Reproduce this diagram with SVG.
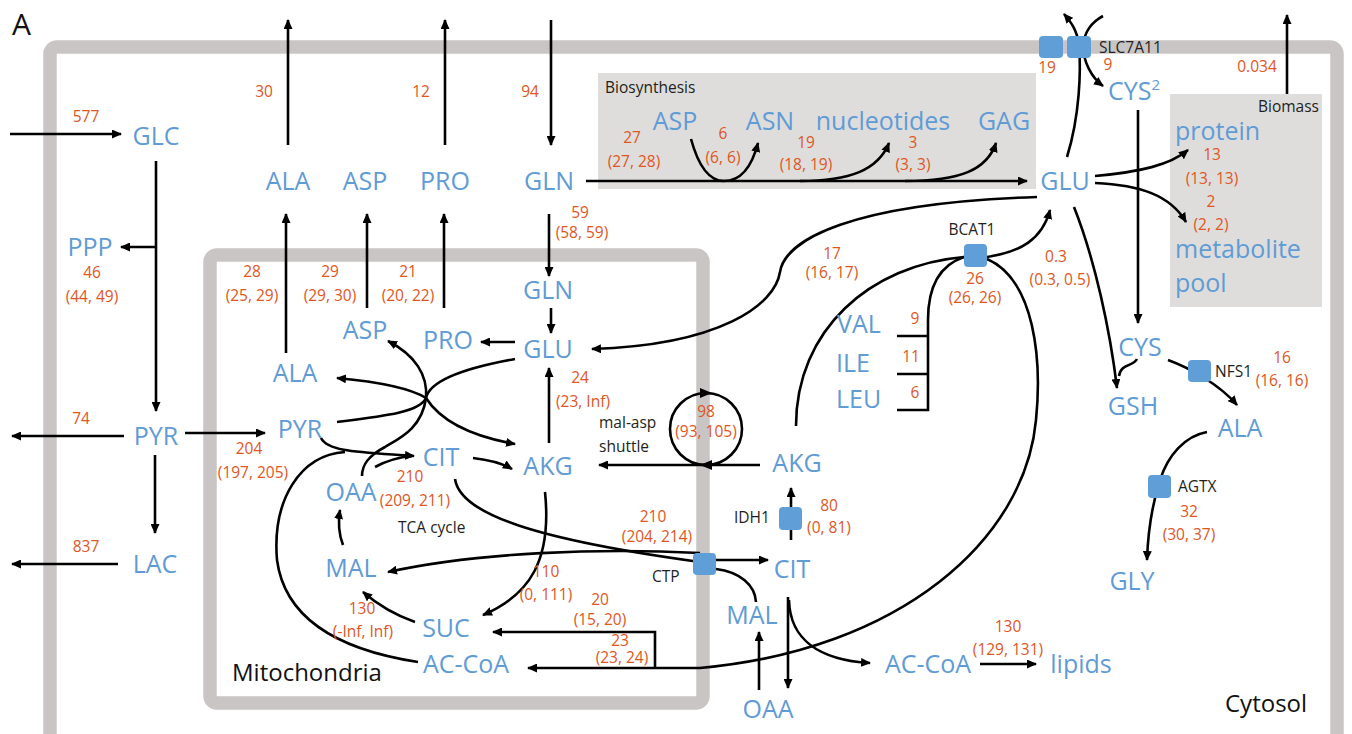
<svg xmlns="http://www.w3.org/2000/svg" width="1352" height="734" viewBox="0 0 1352 734">
<style>
.m{font-family:"Open Sans","Noto Sans",sans-serif;font-size:25px;fill:#5F9BD5;text-anchor:middle}
.ms{font-family:"Open Sans","Noto Sans",sans-serif;font-size:25px;fill:#5F9BD5}
.n{font-family:"Open Sans","Noto Sans",sans-serif;font-size:15.5px;fill:#E0561E;text-anchor:middle}
.l{font-family:"Open Sans","Noto Sans",sans-serif;font-size:15.5px;fill:#231F20}
.big{font-family:"Open Sans","Noto Sans",sans-serif;font-size:24px;fill:#111}
.c{fill:none;stroke:#000;stroke-width:2.6}
.a{marker-end:url(#ah)}
.enz{fill:#5F9ED6}
.comp{fill:none;stroke:#C9C5C4;stroke-width:13.5}
.box{fill:#DEDDDC}
</style>
<defs>
<marker id="ah" viewBox="0 0 10 9" refX="9" refY="4.5" markerWidth="10" markerHeight="9" markerUnits="userSpaceOnUse" orient="auto">
<path d="M0,0 L10,4.5 L0,9 z" fill="#000"/>
</marker>
</defs>
<rect width="1352" height="734" fill="#fff"/>
<g id="compartments">
<rect class="comp" x="50" y="47" width="1287" height="700" rx="7"/>
<rect class="comp" x="210" y="255" width="493" height="448" rx="7"/>
<rect class="box" x="598" y="73" width="438" height="116"/>
<rect class="box" x="1170" y="94" width="152" height="213"/>
</g>
<g id="connectors">
<path class="c a" d="M10,134 H121"/>
<path class="c a" d="M156,161 V411"/>
<path class="c a" d="M156,247 H121"/>
<path class="c a" d="M124,436 H12"/>
<path class="c a" d="M185,433 H265"/>
<path class="c a" d="M155,455 V533"/>
<path class="c a" d="M118,564 H12"/>
<path class="c a" d="M288,145 V20"/>
<path class="c a" d="M445,145 V20"/>
<path class="c a" d="M551,20 V145"/>
<path class="c a" d="M586,181 H1027"/>
<path class="c a" d="M691,139 C700,172 713,181 724,181 C741,181 752,166 758,143"/>
<path class="c a" d="M800,181 C850,181 878,170 889,143"/>
<path class="c a" d="M905,181 C960,181 987,170 996,143"/>
<path class="c a" d="M286,353 V214"/>
<path class="c a" d="M367,308 V214"/>
<path class="c a" d="M444,308 V214"/>
<path class="c a" d="M549,214 V276"/>
<path class="c a" d="M551,308 V333"/>
<path class="c a" d="M515,342 H481"/>
<path class="c a" d="M549,443 V368"/>
<path class="c a" d="M426,398 C410,388 380,382 337,378"/>
<path class="c a" d="M426,398 C440,420 470,436 515,444"/>
<path class="c" d="M337,422 C385,416 420,412 426,398"/>
<path class="c" d="M515,359 C465,368 430,380 426,398"/>
<path class="c a" d="M426,398 C428,375 415,355 388,341"/>
<path class="c" d="M426,398 C422,428 400,438 385,447 C368,456 362,465 362,476"/>
<path class="c a" d="M321,438 C328,452 360,452 414,456"/>
<path class="c" d="M375,467 C388,460 400,457 412,456"/>
<path class="c a" d="M473,458 C490,460 502,463 512,469"/>
<path class="c a" d="M343,545 C338,532 338,522 340,510"/>
<path class="c a" d="M415,622 C395,615 378,605 363,592"/>
<path class="c a" d="M545,492 C552,560 530,595 483,615"/>
<path class="c" d="M418,662 C340,650 285,620 277,560 C272,500 300,455 345,452"/>
<path class="c" d="M455,479 C460,515 540,540 700,562"/>
<path class="c a" d="M700,553 C600,548 480,552 388,572"/>
<path class="c a" d="M716,560 H768"/>
<path class="c" d="M716,569 C740,572 755,585 756,602"/>
<path class="c a" d="M791,540 V488"/>
<path class="c a" d="M788,597 V688"/>
<path class="c a" d="M789,600 C790,640 820,660 870,663"/>
<path class="c a" d="M759,690 V632"/>
<path class="c a" d="M980,664 H1036"/>
<path class="c a" d="M760,465 H599"/>
<circle class="c" cx="706" cy="429" r="36"/>
<path d="M700,388 L712,393 L700,398 z"/>
<path d="M712,460 L700,465 L712,470 z"/>
<path class="c a" d="M655,668 V632 H493"/>
<path class="c a" d="M987,259 C1035,280 1042,360 1036,420 C1025,540 900,650 700,668 L528,668"/>
<path class="c a" d="M987,257 C1020,252 1042,240 1050,210"/>
<path class="c" d="M964,257 C870,265 796,330 796,426"/>
<path class="c" d="M964,257 C940,265 928,285 928,320 V410 H897 M897,336 H928 M897,374 H928"/>
<path class="c a" d="M1037,197 C850,203 785,240 780,272 C775,305 720,345 592,349"/>
<path class="c a" d="M1067,157 C1080,115 1081,70 1079,45 C1077,30 1071,22 1064,14"/>
<path class="c a" d="M1103,16 C1092,22 1085,30 1083,45 C1083,62 1092,78 1103,86"/>
<path class="c a" d="M1138,110 V323"/>
<path class="c a" d="M1287,94 V15"/>
<path class="c a" d="M1095,176 C1140,172 1170,165 1188,150"/>
<path class="c a" d="M1095,183 C1140,185 1170,195 1186,222"/>
<path class="c a" d="M1074,207 C1095,260 1110,330 1117,388"/>
<path class="c" d="M1137,359 C1133,367 1121,363 1119,376"/>
<path class="c a" d="M1168,360 C1190,368 1220,385 1237,405"/>
<path class="c a" d="M1207,432 C1185,436 1168,455 1160,480 C1152,505 1148,530 1147,560"/>
</g>
<g id="enzymes">
<g id="SLC7A11"><rect class="enz" x="1039" y="36" width="24" height="22" rx="4"/><rect class="enz" x="1067" y="36" width="24" height="22" rx="4"/><text class="l" x="1099" y="53">SLC7A11</text></g>
<g id="BCAT1"><rect class="enz" x="964" y="244" width="23" height="23" rx="4"/><text class="l" x="972" y="235" text-anchor="middle">BCAT1</text></g>
<g id="NFS1"><rect class="enz" x="1188" y="360" width="23" height="22" rx="4"/><text class="l" x="1215" y="377">NFS1</text></g>
<g id="AGTX"><rect class="enz" x="1148" y="475" width="23" height="23" rx="4"/><text class="l" x="1178" y="492">AGTX</text></g>
<g id="IDH1"><rect class="enz" x="779" y="507" width="23" height="23" rx="4"/><text class="l" x="734" y="523">IDH1</text></g>
<g id="CTP"><rect class="enz" x="693" y="553" width="23" height="22" rx="4"/><text class="l" x="652" y="582">CTP</text></g>
</g>
<g id="labels">
<text x="12" y="35" style="font-family:'Open Sans',sans-serif;font-size:30px;fill:#111">A</text>
<text class="l" x="605" y="93">Biosynthesis</text>
<text class="l" x="1319" y="112" text-anchor="end">Biomass</text>
<text class="l" x="398" y="533">TCA cycle</text>
<text class="l" x="599" y="428">mal-asp</text>
<text class="l" x="599" y="452">shuttle</text>
<text class="big" x="232" y="681">Mitochondria</text>
<text class="big" x="1225" y="712">Cytosol</text>
</g>
<g id="nodes">
<g id="GLC"><text class="m" x="156" y="145">GLC</text></g>
<g id="PPP"><text class="m" x="90" y="256">PPP</text></g>
<g id="PYR_c"><text class="m" x="156" y="445">PYR</text></g>
<g id="LAC"><text class="m" x="155" y="573">LAC</text></g>
<g id="ALA_c"><text class="m" x="288" y="190">ALA</text></g>
<g id="ASP_c"><text class="m" x="365" y="190">ASP</text></g>
<g id="PRO_c"><text class="m" x="445" y="190">PRO</text></g>
<g id="GLN_c"><text class="m" x="549" y="190">GLN</text></g>
<g id="ASP_b"><text class="m" x="675" y="130">ASP</text></g>
<g id="ASN"><text class="m" x="770" y="130">ASN</text></g>
<g id="nucleotides"><text class="m" x="883" y="130">nucleotides</text></g>
<g id="GAG"><text class="m" x="1004" y="130">GAG</text></g>
<g id="GLU_c"><text class="m" x="1065" y="190">GLU</text></g>
<g id="CYS2"><text class="ms" x="1108" y="100">CYS<tspan font-size="15" dy="-10">2</tspan></text></g>
<g id="protein"><text class="ms" x="1175" y="140">protein</text></g>
<g id="metabolite_pool"><text class="ms" x="1175" y="258">metabolite</text><text class="ms" x="1175" y="292">pool</text></g>
<g id="CYS"><text class="m" x="1140" y="356">CYS</text></g>
<g id="GSH"><text class="m" x="1133" y="415">GSH</text></g>
<g id="ALA_r"><text class="m" x="1240" y="437">ALA</text></g>
<g id="GLY"><text class="m" x="1132" y="590">GLY</text></g>
<g id="VAL"><text class="ms" x="837" y="333">VAL</text></g>
<g id="ILE"><text class="ms" x="836" y="372">ILE</text></g>
<g id="LEU"><text class="ms" x="836" y="408">LEU</text></g>
<g id="GLN_m"><text class="m" x="548" y="299">GLN</text></g>
<g id="GLU_m"><text class="m" x="548" y="358">GLU</text></g>
<g id="PRO_m"><text class="m" x="448" y="349">PRO</text></g>
<g id="ASP_m"><text class="m" x="365" y="339">ASP</text></g>
<g id="ALA_m"><text class="m" x="295" y="382">ALA</text></g>
<g id="PYR_m"><text class="m" x="300" y="438">PYR</text></g>
<g id="CIT_m"><text class="m" x="441" y="466">CIT</text></g>
<g id="AKG_m"><text class="m" x="548" y="475">AKG</text></g>
<g id="OAA_m"><text class="m" x="351" y="501">OAA</text></g>
<g id="MAL_m"><text class="m" x="351" y="577">MAL</text></g>
<g id="SUC"><text class="m" x="446" y="637">SUC</text></g>
<g id="ACCoA_m"><text class="m" x="466" y="673">AC-CoA</text></g>
<g id="AKG_c"><text class="m" x="797" y="472">AKG</text></g>
<g id="CIT_c"><text class="m" x="792" y="578">CIT</text></g>
<g id="MAL_c"><text class="m" x="752" y="624">MAL</text></g>
<g id="OAA_c"><text class="m" x="768" y="718">OAA</text></g>
<g id="ACCoA_c"><text class="m" x="928" y="673">AC-CoA</text></g>
<g id="lipids"><text class="m" x="1081" y="673">lipids</text></g>
</g>
<g id="fluxes">
<text class="n" x="86" y="122">577</text>
<text class="n" x="264" y="97">30</text>
<text class="n" x="421" y="97">12</text>
<text class="n" x="530" y="97">94</text>
<text class="n" x="632" y="143">27</text><text class="n" x="634" y="167">(27, 28)</text>
<text class="n" x="723" y="139">6</text><text class="n" x="723" y="163">(6, 6)</text>
<text class="n" x="806" y="148">19</text><text class="n" x="806" y="170">(18, 19)</text>
<text class="n" x="913" y="148">3</text><text class="n" x="913" y="170">(3, 3)</text>
<text class="n" x="1047" y="73">19</text>
<text class="n" x="1108" y="70">9</text>
<text class="n" x="1257" y="72">0.034</text>
<text class="n" x="1212" y="160">13</text><text class="n" x="1212" y="184">(13, 13)</text>
<text class="n" x="1211" y="207">2</text><text class="n" x="1211" y="230">(2, 2)</text>
<text class="n" x="92" y="278">46</text><text class="n" x="92" y="302">(44, 49)</text>
<text class="n" x="252" y="277">28</text><text class="n" x="252" y="301">(25, 29)</text>
<text class="n" x="330" y="277">29</text><text class="n" x="330" y="301">(29, 30)</text>
<text class="n" x="408" y="277">21</text><text class="n" x="408" y="301">(20, 22)</text>
<text class="n" x="580" y="218">59</text><text class="n" x="582" y="238">(58, 59)</text>
<text class="n" x="832" y="259">17</text><text class="n" x="832" y="278">(16, 17)</text>
<text class="n" x="975" y="284">26</text><text class="n" x="975" y="303">(26, 26)</text>
<text class="n" x="1056" y="262">0.3</text><text class="n" x="1060" y="285">(0.3, 0.5)</text>
<text class="n" x="915" y="324">9</text>
<text class="n" x="911" y="362">11</text>
<text class="n" x="915" y="398">6</text>
<text class="n" x="1282" y="363">16</text><text class="n" x="1282" y="386">(16, 16)</text>
<text class="n" x="580" y="383">24</text><text class="n" x="583" y="407">(23, Inf)</text>
<text class="n" x="706" y="417">98</text><text class="n" x="706" y="437">(93, 105)</text>
<text class="n" x="81" y="424">74</text>
<text class="n" x="249" y="454">204</text><text class="n" x="253" y="478">(197, 205)</text>
<text class="n" x="410" y="482">210</text><text class="n" x="415" y="506">(209, 211)</text>
<text class="n" x="653" y="522">210</text><text class="n" x="657" y="542">(204, 214)</text>
<text class="n" x="829" y="511">80</text><text class="n" x="829" y="533">(0, 81)</text>
<text class="n" x="1189" y="517">32</text><text class="n" x="1189" y="540">(30, 37)</text>
<text class="n" x="86" y="552">837</text>
<text class="n" x="546" y="577">110</text><text class="n" x="546" y="600">(0, 111)</text>
<text class="n" x="600" y="605">20</text><text class="n" x="600" y="625">(15, 20)</text>
<text class="n" x="362" y="614">130</text><text class="n" x="363" y="637">(-Inf, Inf)</text>
<text class="n" x="620" y="646">23</text><text class="n" x="622" y="663">(23, 24)</text>
<text class="n" x="1008" y="632">130</text><text class="n" x="1008" y="655">(129, 131)</text>
</g>
</svg>
